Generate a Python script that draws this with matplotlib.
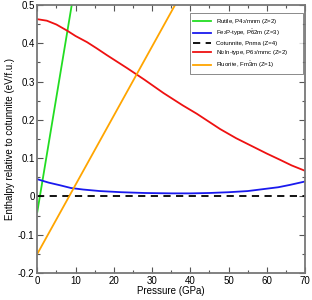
import matplotlib
matplotlib.use("Agg")
import matplotlib.pyplot as plt
from matplotlib.ticker import MultipleLocator

plt.rcParams['font.family'] = ['Liberation Sans', 'DejaVu Sans']
plt.rcParams['mathtext.fontset'] = 'custom'
plt.rcParams['mathtext.rm'] = 'Liberation Sans'
plt.rcParams['mathtext.it'] = 'Liberation Sans'

# Data (pressure in GPa, enthalpy in eV/f.u.)
rutile_p = [0, 10]
rutile_h = [-0.04, 0.56]

fe2p_p = [0, 3, 6, 8.8, 12, 16.4, 22, 28, 35, 40, 45, 50, 55, 59, 63, 66, 70]
fe2p_h = [0.045, 0.036, 0.029, 0.022, 0.018, 0.014, 0.011, 0.009, 0.008, 0.008,
          0.009, 0.011, 0.014, 0.019, 0.024, 0.030, 0.039]

cot_p = [0, 70]
cot_h = [0, 0]

ni2in_p = [0, 2.5, 5, 7.8, 10, 13, 15.5, 18.2, 23.5, 28, 33, 38, 41.7, 47.8,
           52, 55.6, 60, 63.4, 66.5, 70]
ni2in_h = [0.463, 0.459, 0.449, 0.433, 0.419, 0.403, 0.387, 0.369, 0.335, 0.305,
           0.270, 0.238, 0.216, 0.176, 0.152, 0.134, 0.112, 0.096, 0.081, 0.067]

fluor_p = [0, 40]
fluor_h = [-0.15, 0.572]

labels = ["Rutile, P4$_2$/mnm (Z=2)",
          "Fe$_2$P-type, P$\\bar{6}$2m (Z=3)",
          "Cotunnite, Pnma (Z=4)",
          "Ni$_2$In-type, P6$_3$/mmc (Z=2)",
          "Fluorite, Fm$\\bar{3}$m (Z=1)"]

fig = plt.figure(figsize=(3.12, 3.0), dpi=100)
ax = fig.add_axes([0.1196, 0.09, 0.858, 0.8933])

lw = 1.3
ax.plot(rutile_p, rutile_h, color='#22dd22', lw=lw, label=labels[0])
ax.plot(fe2p_p, fe2p_h, color='#1a1aee', lw=lw, label=labels[1])
ax.plot(cot_p, cot_h, color='black', lw=lw, ls=(0, (4, 3)), label=labels[2])
ax.plot(ni2in_p, ni2in_h, color='#ee1111', lw=lw, label=labels[3])
ax.plot(fluor_p, fluor_h, color='#ffa500', lw=lw, label=labels[4])

ax.set_xlim(0, 70)
ax.set_ylim(-0.2, 0.5)
ax.xaxis.set_minor_locator(MultipleLocator(5))
ax.yaxis.set_minor_locator(MultipleLocator(0.05))
ax.set_xticks([0, 10, 20, 30, 40, 50, 60, 70])
ax.set_xticklabels(['0', '10', '20', '30', '40', '50', '60', '70'])
ax.set_yticks([-0.2, -0.1, 0, 0.1, 0.2, 0.3, 0.4, 0.5])
ax.set_yticklabels(['-0.2', '-0.1', '0', '0.1', '0.2', '0.3', '0.4', '0.5'])

ax.tick_params(which='both', direction='in', top=True, right=True, color='#555555',
               labelsize=7, pad=2)
ax.tick_params(which='major', length=4, width=0.8)
ax.tick_params(which='minor', length=2, width=0.8)
for s in ax.spines.values():
    s.set_color('#777777')
    s.set_linewidth(1.3)

ax.set_xlabel('Pressure (GPa)', fontsize=7, labelpad=0)
ax.set_ylabel('Enthalpy relative to cotunnite (eV/f.u.)', fontsize=7, labelpad=2)

leg = ax.legend(loc='upper left', bbox_to_anchor=(0.570, 0.754, 0.4225, 0.216),
                mode='expand', fontsize=4.3,
                frameon=True, fancybox=False, edgecolor='#555555',
                handlelength=2.85, handletextpad=1.0, labelspacing=0.42,
                borderpad=0.6, borderaxespad=0.0)
leg.get_frame().set_linewidth(0.6)

fig.savefig('out.png', dpi=100)
